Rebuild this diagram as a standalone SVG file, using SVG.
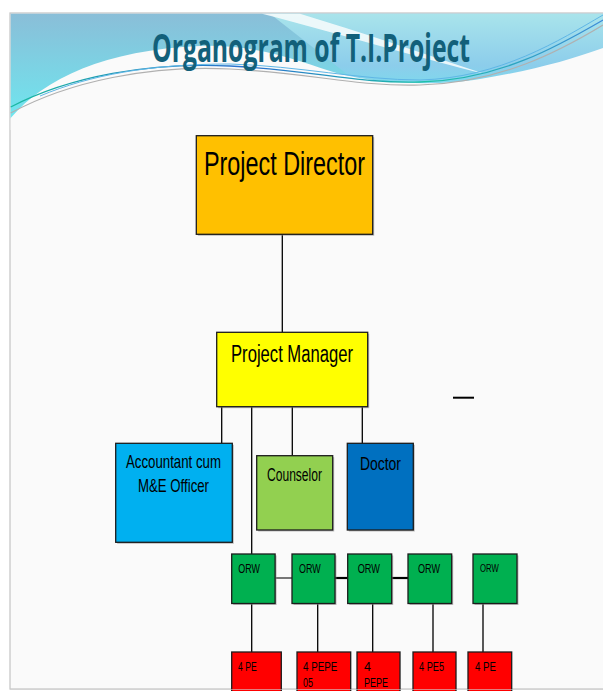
<svg xmlns="http://www.w3.org/2000/svg" width="603" height="691" viewBox="0 0 603 691">
<defs>
<linearGradient id="hdr" x1="0" y1="0" x2="0" y2="1">
<stop offset="0" stop-color="#8ABED8"/>
<stop offset="1" stop-color="#6FE6EF"/>
</linearGradient>
<linearGradient id="hdrR" x1="0" y1="0" x2="0" y2="1">
<stop offset="0" stop-color="#A9E4EB"/>
<stop offset="0.6" stop-color="#8CCDEB"/>
<stop offset="1" stop-color="#72E2EE"/>
</linearGradient>
<linearGradient id="ln" x1="0" y1="0" x2="1" y2="0">
<stop offset="0" stop-color="#19B9A0"/>
<stop offset="0.4" stop-color="#2A6FD0"/>
<stop offset="0.7" stop-color="#1FC0A8"/>
<stop offset="1" stop-color="#3C8AD8"/>
</linearGradient>
</defs>
<style>
.box{stroke:#1c1c1c;stroke-width:1.3}
.sh{fill:#8a8a8a;opacity:0.55}
.t{font-family:"Liberation Sans Narrow","Liberation Sans",Arial,sans-serif;fill:#000}
.c{stroke:#000;stroke-width:1.3;fill:none}
</style>
<rect x="0" y="0" width="603" height="691" fill="#ffffff"/>
<!-- slide -->
<rect x="10" y="13" width="600" height="676" fill="#FAFAFA" stroke="#C8C8C8" stroke-width="1.3"/>
<!-- header -->
<g id="header">
<rect x="10.7" y="13.7" width="593" height="105" fill="url(#hdr)"/>
<path d="M270,13.7 L603,13.7 L603,100 L380,100 Z" fill="url(#hdrR)"/>
<path d="M262,13.7 L300,13.7 C360,32 420,52 485,74 C420,58 340,34 262,13.7 Z" fill="#F4FBFC" opacity="0.9"/>
<path d="M10.7,118 C45,78 105,50 200,46 C260,44 300,62 340,74 C380,84 440,86 480,79 C530,71 570,60 603,48 L603,130 L10.7,130 Z" fill="#FAFAFA"/>
<path d="M10.7,110 C70,78 150,62 230,66 C310,70 360,84 420,82 C500,80 560,48 603,22" fill="none" stroke="#B0B0B0" stroke-width="1.2" transform="translate(0,3)"/>
<path d="M10.7,107 C70,76 150,62 230,66 C310,70 360,84 420,82 C500,80 560,45 603,20" fill="none" stroke="url(#ln)" stroke-width="1.3"/>
<path d="M40,96 C90,75 150,64 230,64 C300,66 360,80 420,80 C500,78 560,40 603,15" fill="none" stroke="#5FB6E6" stroke-width="1"/>
<text x="152" y="62" font-family="'Open Sans','Liberation Sans',sans-serif" font-weight="700" font-size="39" fill="#12607A" textLength="318" lengthAdjust="spacingAndGlyphs">Organogram of T.I.Project</text>
</g>
<!-- connectors -->
<g id="connectors">
<line class="c" x1="282.3" y1="234.3" x2="282.3" y2="332.3"/>
<line class="c" x1="221.7" y1="406.7" x2="221.7" y2="443.3"/>
<line class="c" x1="251.7" y1="406.7" x2="251.7" y2="554"/>
<line class="c" x1="292.3" y1="406.7" x2="292.3" y2="455.7"/>
<line class="c" x1="362.3" y1="406.7" x2="362.3" y2="443.3"/>
<line x1="453" y1="397.7" x2="474" y2="397.7" stroke="#000" stroke-width="2"/>
<line x1="275.5" y1="578" x2="292" y2="578" stroke="#777" stroke-width="2"/>
<line x1="332" y1="578" x2="347.7" y2="578" stroke="#000" stroke-width="2.2"/>
<line x1="391.7" y1="578" x2="408" y2="578" stroke="#000" stroke-width="2.2"/>
<line class="c" x1="251.7" y1="604" x2="251.7" y2="652"/>
<line class="c" x1="317.7" y1="604" x2="317.7" y2="652"/>
<line class="c" x1="372.7" y1="604" x2="372.7" y2="652"/>
<line class="c" x1="433" y1="604" x2="433" y2="652"/>
<line class="c" x1="483" y1="604" x2="483" y2="652"/>
</g>
<g id="director">
<rect class="sh" x="197.8" y="137.2" width="176.4" height="98.6"/>
<rect class="box" x="196.3" y="135.7" width="176.4" height="98.6" fill="#FFC000"/>
<text class="t" x="204" y="175" font-size="34" textLength="161" lengthAdjust="spacingAndGlyphs">Project Director</text>
</g>
<g id="manager">
<rect class="sh" x="218.2" y="333.8" width="151" height="74.4"/>
<rect class="box" x="216.7" y="332.3" width="151" height="74.4" fill="#FFFF00"/>
<text class="t" x="231" y="361.7" font-size="23" textLength="122" lengthAdjust="spacingAndGlyphs">Project Manager</text>
</g>
<g id="accountant">
<rect class="sh" x="117.2" y="444.8" width="116.6" height="99"/>
<rect class="box" x="115.7" y="443.3" width="116.6" height="99" fill="#00B0F0"/>
<text class="t" x="126" y="468.4" font-size="18.5" textLength="95" lengthAdjust="spacingAndGlyphs">Accountant cum</text>
<text class="t" x="138" y="491.7" font-size="18.5" textLength="71" lengthAdjust="spacingAndGlyphs">M&amp;E Officer</text>
</g>
<g id="counselor">
<rect class="sh" x="258.2" y="457.2" width="76" height="74.3"/>
<rect class="box" x="256.7" y="455.7" width="76" height="74.3" fill="#92D050"/>
<text class="t" x="267" y="481" font-size="17.5" textLength="55" lengthAdjust="spacingAndGlyphs">Counselor</text>
</g>
<g id="doctor">
<rect class="sh" x="348.8" y="444.8" width="66" height="86.7"/>
<rect class="box" x="347.3" y="443.3" width="66" height="86.7" fill="#0070C0"/>
<text class="t" x="360" y="470" font-size="18.5" textLength="41" lengthAdjust="spacingAndGlyphs">Doctor</text>
</g>
<g id="orw1">
<rect class="sh" x="233.2" y="555.5" width="43.4" height="49.5"/>
<rect class="box" x="231.7" y="554" width="43.4" height="49.5" fill="#00B050"/>
<text class="t" x="238.3" y="573.3" font-size="13" textLength="21.7" lengthAdjust="spacingAndGlyphs">ORW</text>
</g>
<g id="orw2">
<rect class="sh" x="293.5" y="555.5" width="43" height="49.5"/>
<rect class="box" x="292" y="554" width="43" height="49.5" fill="#00B050"/>
<text class="t" x="299" y="573.3" font-size="13" textLength="21.7" lengthAdjust="spacingAndGlyphs">ORW</text>
</g>
<g id="orw3">
<rect class="sh" x="349.2" y="555.5" width="44" height="49.5"/>
<rect class="box" x="347.7" y="554" width="44" height="49.5" fill="#00B050"/>
<text class="t" x="357.7" y="573.3" font-size="13" textLength="22.3" lengthAdjust="spacingAndGlyphs">ORW</text>
</g>
<g id="orw4">
<rect class="sh" x="409.5" y="555.5" width="43.7" height="49.5"/>
<rect class="box" x="408" y="554" width="43.7" height="49.5" fill="#00B050"/>
<text class="t" x="418" y="573.3" font-size="13" textLength="22" lengthAdjust="spacingAndGlyphs">ORW</text>
</g>
<g id="orw5">
<rect class="sh" x="474.5" y="555.5" width="44" height="49.5"/>
<rect class="box" x="473" y="554" width="44" height="49.5" fill="#00B050"/>
<text class="t" x="480" y="571.7" font-size="11" textLength="18.7" lengthAdjust="spacingAndGlyphs">ORW</text>
</g>
<g id="pe1">
<rect class="box" x="231.7" y="652" width="49.6" height="45" fill="#FF0000"/>
<text class="t" x="238" y="670.7" font-size="12.5" textLength="18.7" lengthAdjust="spacingAndGlyphs">4 PE</text>
</g>
<g id="pe2">
<rect class="box" x="297" y="652" width="53.7" height="45" fill="#FF0000"/>
<text class="t" x="303" y="670.7" font-size="12.5" textLength="34.3" lengthAdjust="spacingAndGlyphs">4  PEPE</text>
<text class="t" x="303" y="686.7" font-size="12.5" textLength="10" lengthAdjust="spacingAndGlyphs">05</text>
</g>
<g id="pe3">
<rect class="box" x="357" y="652" width="43" height="45" fill="#FF0000"/>
<text class="t" x="364" y="670.7" font-size="12.5">4</text>
<text class="t" x="364" y="686.7" font-size="12.5" textLength="24" lengthAdjust="spacingAndGlyphs">PEPE</text>
</g>
<g id="pe4">
<rect class="box" x="413" y="652" width="43" height="45" fill="#FF0000"/>
<text class="t" x="419" y="670.7" font-size="12.5" textLength="25" lengthAdjust="spacingAndGlyphs">4 PE5</text>
</g>
<g id="pe5">
<rect class="box" x="468" y="652" width="43.7" height="45" fill="#FF0000"/>
<text class="t" x="475" y="670.7" font-size="12.5" textLength="21" lengthAdjust="spacingAndGlyphs">4 PE</text>
</g>
<line x1="10" y1="689.5" x2="603" y2="689.5" stroke="#D0D0D0" stroke-width="1" opacity="0.6"/>
</svg>
